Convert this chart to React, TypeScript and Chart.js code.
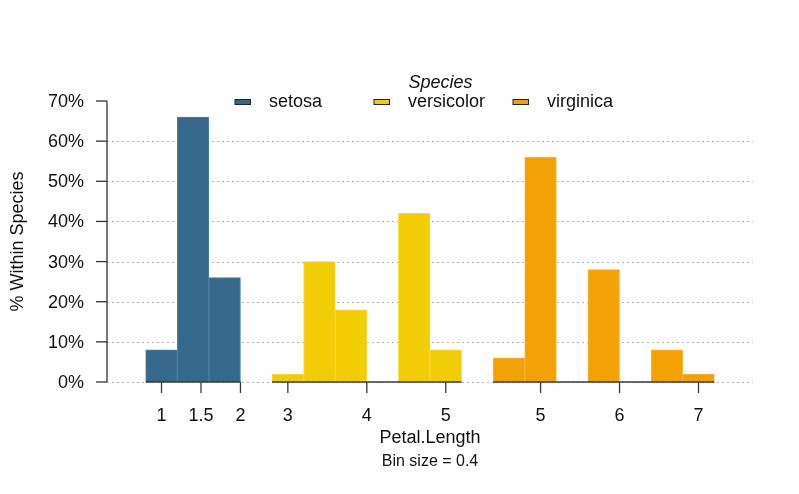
import React, { useEffect, useRef } from "react";
import { Chart, registerables } from "chart.js";

Chart.register(...registerables);

// ---- data ----
const binSize = 0.4;
const species = ["setosa", "versicolor", "virginica"];
const setosaBins = [0.8, 1.2, 1.6];
const setosaPct = [8, 66, 26];
const versicolorBins = [2.8, 3.2, 3.6, 4.0, 4.4, 4.8];
const versicolorPct = [2, 30, 18, 0, 42, 8];
const virginicaBins = [4.4, 4.8, 5.2, 5.6, 6.0, 6.4, 6.8];
const virginicaPct = [6, 56, 0, 28, 0, 8, 2];
const setosaTicks = [1, 1.5, 2];
const versicolorTicks = [3, 4, 5];
const virginicaTicks = [5, 6, 7];
const yTicks = [0, 10, 20, 30, 40, 50, 60, 70];

// panel shifts on the shared x scale (layout)
const panelShift = [0, -0.4, 0.8];
const fills = ["#36688c", "#f2cc05", "#f4a106"];
const borders = ["#4f7fa3", "#f6d83e", "#f7b440"];

const FONT = "'Liberation Sans', Arial, Helvetica, sans-serif";

const panels = [
  { bins: setosaBins, pct: setosaPct, ticks: setosaTicks },
  { bins: versicolorBins, pct: versicolorPct, ticks: versicolorTicks },
  { bins: virginicaBins, pct: virginicaPct, ticks: virginicaTicks },
];

const decorPlugin = {
  id: "decor",
  beforeDatasetsDraw(chart: any) {
    const { ctx, chartArea } = chart;
    const ys = chart.scales.y;
    ctx.save();
    ctx.strokeStyle = "#b4b4b4";
    ctx.lineWidth = 1;
    ctx.setLineDash([2, 3]);
    yTicks.forEach((v) => {
      if (v >= ys.max) return;
      const py = Math.round(ys.getPixelForValue(v)) + 0.5;
      ctx.beginPath();
      ctx.moveTo(chartArea.left, py);
      ctx.lineTo(chartArea.right, py);
      ctx.stroke();
    });
    ctx.restore();
  },
  afterDatasetsDraw(chart: any) {
    const { ctx, chartArea } = chart;
    const xs = chart.scales.x;
    const ys = chart.scales.y;
    const y0 = ys.getPixelForValue(0);
    ctx.save();
    ctx.setLineDash([]);
    // panel baselines + ticks
    panels.forEach((p, i) => {
      const sh = panelShift[i];
      const xa = xs.getPixelForValue(p.bins[0] + sh);
      const xb = xs.getPixelForValue(p.bins[p.bins.length - 1] + binSize + sh);
      ctx.strokeStyle = "#3a3a3a";
      ctx.lineWidth = 1.6;
      ctx.beginPath();
      ctx.moveTo(xa, y0);
      ctx.lineTo(xb, y0);
      ctx.stroke();
      ctx.lineWidth = 1.3;
      ctx.fillStyle = "#111";
      ctx.font = `18px ${FONT}`;
      ctx.textAlign = "center";
      ctx.textBaseline = "middle";
      p.ticks.forEach((t) => {
        const px = xs.getPixelForValue(t + sh);
        ctx.beginPath();
        ctx.moveTo(px, y0);
        ctx.lineTo(px, y0 + 11);
        ctx.stroke();
        ctx.fillText(String(t), px, y0 + 34);
      });
    });
    // y axis
    const left = chartArea.left;
    ctx.strokeStyle = "#333";
    ctx.lineWidth = 1.3;
    ctx.beginPath();
    ctx.moveTo(left, ys.getPixelForValue(0));
    ctx.lineTo(left, ys.getPixelForValue(ys.max));
    ctx.stroke();
    ctx.fillStyle = "#111";
    ctx.font = `18px ${FONT}`;
    ctx.textAlign = "right";
    ctx.textBaseline = "middle";
    yTicks.forEach((v) => {
      const py = ys.getPixelForValue(v);
      ctx.beginPath();
      ctx.moveTo(left - 11, py);
      ctx.lineTo(left, py);
      ctx.stroke();
      ctx.fillText(`${v}%`, left - 23, py + 1);
    });
    // titles
    const cx = (chartArea.left + chartArea.right) / 2;
    ctx.textAlign = "center";
    ctx.font = `18px ${FONT}`;
    ctx.fillText("Petal.Length", cx, 438);
    ctx.font = `16px ${FONT}`;
    ctx.fillText(`Bin size = ${binSize}`, cx, 462);
    ctx.save();
    ctx.translate(18, (chartArea.top + chartArea.bottom) / 2);
    ctx.rotate(-Math.PI / 2);
    ctx.font = `18px ${FONT}`;
    ctx.fillText("% Within Species", 0, 0);
    ctx.restore();
    // legend
    ctx.font = `italic 18px ${FONT}`;
    ctx.textAlign = "center";
    ctx.fillText("Species", 440.5, 83);
    ctx.font = `18px ${FONT}`;
    ctx.textAlign = "left";
    species.forEach((s, i) => {
      const bx = 235 + i * 139;
      ctx.fillStyle = fills[i];
      ctx.fillRect(bx, 99.5, 15.5, 5);
      ctx.strokeStyle = "#222";
      ctx.lineWidth = 1;
      ctx.strokeRect(bx, 99.5, 15.5, 5);
      ctx.fillStyle = "#111";
      ctx.fillText(s, bx + 34, 102);
    });
    ctx.restore();
  },
};

export default function App() {
  const ref = useRef<HTMLCanvasElement | null>(null);
  useEffect(() => {
    document.body.style.margin = "0";
    document.body.style.overflow = "hidden";
    const canvas = ref.current;
    if (!canvas) return;
    const datasets = panels.map((p, i) => ({
      label: species[i],
      data: p.bins.map((b, j) => ({ x: b + binSize / 2 + panelShift[i], y: p.pct[j] })),
      backgroundColor: fills[i],
      borderColor: borders[i],
      borderWidth: 1,
      grouped: false,
      barPercentage: 1,
      categoryPercentage: 1,
    }));
    const chart = new Chart(canvas, {
      type: "bar",
      data: { datasets } as any,
      options: {
        animation: false,
        responsive: false,
        layout: { padding: { left: 107, right: 46, top: 101, bottom: 112 } },
        scales: {
          x: { type: "linear", min: 0.31, max: 8.49, offset: false, display: false, ticks: { stepSize: 1 } },
          y: { min: 0, max: 70, display: false },
        },
        plugins: { legend: { display: false }, tooltip: { enabled: false } },
      } as any,
      plugins: [decorPlugin],
    });
    return () => chart.destroy();
  }, []);
  return (
    <div style={{ width: 799, height: 494 }}>
      <canvas ref={ref} width={799} height={494} style={{ display: "block" }} />
    </div>
  );
}
